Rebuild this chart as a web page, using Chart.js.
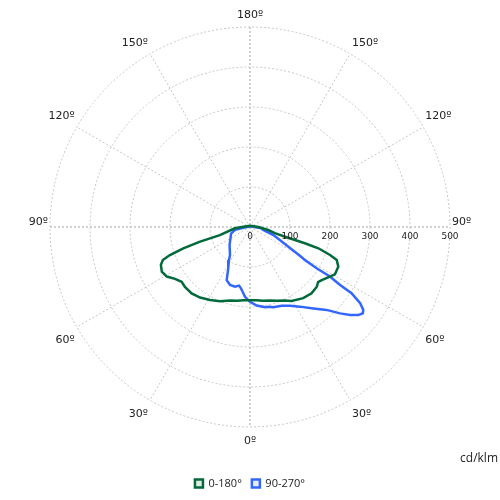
<!DOCTYPE html>
<html>
<head>
<meta charset="utf-8">
<script src="https://cdn.jsdelivr.net/npm/chart.js@4"></script>
<style>
  html, body { margin: 0; padding: 0; background: #ffffff; }
  #wrap { width: 500px; height: 500px; }
</style>
</head>
<body>
<div id="wrap"><canvas id="c" width="500" height="500"></canvas></div>
<script>
// ---- Data: polar luminous intensity (cd/klm), angle gamma in degrees (0 = down, negative = left side)
const seriesNames = ['0-180°', '90-270°'];

const c0Angles = [180, -90, -85, -75, -73.6, -72.3, -70.7, -69.3, -67, -63.2, -59.2, -55.3, -51.3, -47.4, -41.3, -35.3, -28.7, -22, -15, -10, -5, 0,
                  5, 10, 15, 20, 25, 29.4, 36.8, 42.9, 48.2, 51, 53.5, 58.2, 60.9, 65.8, 69.2, 70.7, 72.7, 73.5, 74.5, 76, 80.5, 90, 180];
const c0Values = [3, 20, 38, 78, 130, 175, 212, 233, 242, 247, 242, 228, 219, 221, 221, 216, 208, 200, 190, 187, 184, 183,
                  184, 187, 190, 196, 203, 212, 222, 226, 224, 219, 223, 235, 243, 242, 232, 212, 179, 143, 91, 64, 46, 21, 3];

const c90Angles = [180, -79, -71, -48.7, -35.5, -32.5, -27.7, -23.7, -19, -14.1, -10.6, -8.4, -4.1, 0,
                   4.9, 10.6, 13.5, 16.2, 21.9, 26.9, 32.1, 37.9, 42.7, 46.2, 48.7, 50.9, 52.6, 53.8, 55.3, 56.9, 57.2, 58.2, 58.2, 59, 60, 71, 77, 83.7, 180];
const c90Values = [2, 38, 50, 68, 86, 98, 117, 145, 153, 154, 149, 155, 175, 187,
                   197, 204, 205, 209, 212, 221, 235, 258, 282, 312, 333, 349, 355, 351, 335, 303, 268, 235, 196, 160, 144, 62, 34, 29, 2];

const ringValues = [100, 200, 300, 400, 500];
const tickLabels = ['0', '100', '200', '300', '400', '500'];
const spokeAngles = [0, 30, 60, 90, 120, 150, 180];
const angleLabels = ['0º', '30º', '60º', '90º', '120º', '150º', '180º'];
const unitLabel = 'cd/klm';

const colors = ['#006a3b', '#3366ff'];
const fills = ['rgba(0,106,59,0.12)', 'rgba(51,102,255,0.12)'];

function toXY(angles, values) {
  return angles.map((a, i) => {
    const r = values[i];
    const t = a * Math.PI / 180;
    return { x: r * Math.sin(t), y: -r * Math.cos(t) };
  });
}

const FONT = '"Open Sans", sans-serif';
const LFONT = '"DejaVu Sans", sans-serif';

const polarGrid = {
  id: 'polarGrid',
  beforeDatasetsDraw(chart) {
    const ctx = chart.ctx;
    const xs = chart.scales.x, ys = chart.scales.y;
    const cx = xs.getPixelForValue(0), cy = ys.getPixelForValue(0);
    const rad = v => xs.getPixelForValue(v) - cx;
    const R = rad(ringValues[ringValues.length - 1]);
    ctx.save();
    ctx.strokeStyle = '#c6c6c6';
    ctx.lineWidth = 1;
    ctx.setLineDash([2, 2]);
    ringValues.forEach(v => {
      ctx.beginPath();
      ctx.arc(cx, cy, rad(v), 0, Math.PI * 2);
      ctx.stroke();
    });
    spokeAngles.forEach(a => {
      if (a === 0 || a === 90 || a === 180) return;
      [-1, 1].forEach(s => {
        const t = s * a * Math.PI / 180;
        ctx.beginPath();
        ctx.moveTo(cx, cy);
        ctx.lineTo(cx + R * Math.sin(t), cy + R * Math.cos(t));
        ctx.stroke();
      });
    });
    ctx.strokeStyle = '#d0d0d0';
    ctx.lineWidth = 2;
    ctx.setLineDash([2, 2]);
    ctx.beginPath();
    ctx.moveTo(cx - R, cy); ctx.lineTo(cx + R, cy);
    ctx.moveTo(cx, cy - R); ctx.lineTo(cx, cy + R);
    ctx.stroke();
    ctx.restore();
  },
  afterDraw(chart) {
    const ctx = chart.ctx;
    const xs = chart.scales.x, ys = chart.scales.y;
    const cx = xs.getPixelForValue(0), cy = ys.getPixelForValue(0);
    const rad = v => xs.getPixelForValue(v) - cx;
    const R = rad(ringValues[ringValues.length - 1]);
    ctx.save();
    ctx.fillStyle = '#222';
    ctx.font = '9px ' + LFONT;
    ctx.textAlign = 'center';
    ctx.textBaseline = 'middle';
    tickLabels.forEach((lbl, i) => {
      ctx.fillText(lbl, cx + rad(i * 100), cy + 10);
    });
    ctx.font = '11px ' + LFONT;
    spokeAngles.forEach((a, i) => {
      const sides = (a === 0 || a === 180) ? [0] : [-1, 1];
      sides.forEach(s => {
        const t = a * Math.PI / 180;
        const ex = cx + s * R * Math.sin(t);
        const ey = cy + R * Math.cos(t);
        let dy = a < 90 ? 13.5 : (a === 90 ? -4.5 : -11);
        if (a === 180) dy = -12;
        if (a === 0) dy = 14;
        ctx.textAlign = s === 0 ? 'center' : (s > 0 ? 'left' : 'right');
        ctx.fillText(angleLabels[i], ex + s * 2, ey + dy);
      });
    });
    ctx.textAlign = 'right';
    ctx.font = '12px ' + FONT;
    ctx.fillText(unitLabel, 498, 459);
    ctx.restore();
  }
};

new Chart(document.getElementById('c'), {
  type: 'scatter',
  data: {
    datasets: [
      { label: seriesNames[0], data: toXY(c0Angles, c0Values), showLine: true, borderColor: colors[0], backgroundColor: fills[0],
        borderWidth: 2.5, pointRadius: 0, tension: 0, fill: false },
      { label: seriesNames[1], data: toXY(c90Angles, c90Values), showLine: true, borderColor: colors[1], backgroundColor: fills[1],
        borderWidth: 2.5, pointRadius: 0, tension: 0, fill: false }
    ]
  },
  plugins: [polarGrid],
  options: {
    responsive: false,
    animation: false,
    devicePixelRatio: 1,
    layout: { padding: { left: 50, right: 50, top: 27, bottom: 1 } },
    scales: {
      x: { type: 'linear', min: -500, max: 500, display: false },
      y: { type: 'linear', min: -602.5, max: 500, display: false }
    },
    plugins: {
      legend: {
        position: 'bottom',
        labels: { boxWidth: 8, boxHeight: 8, padding: 10, color: '#222', font: { family: FONT, size: 11 } }
      },
      tooltip: { enabled: false }
    }
  }
});
</script>
</body>
</html>
